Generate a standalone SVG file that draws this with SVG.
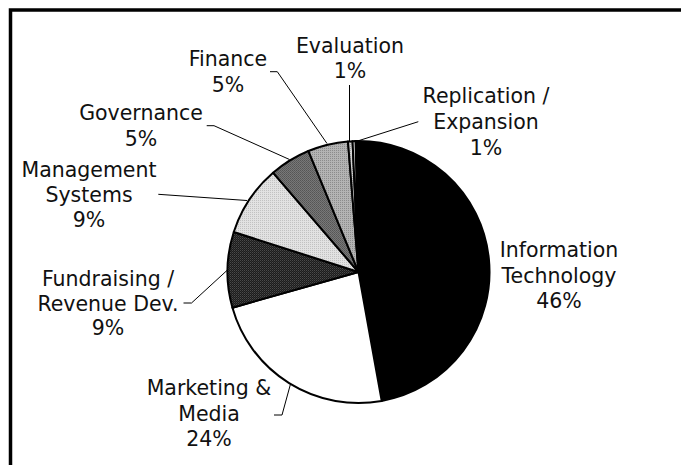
<svg xmlns="http://www.w3.org/2000/svg" width="681" height="465" viewBox="0 0 681 465">
<style>
text{font-family:"DejaVu Sans","Liberation Sans",sans-serif;font-size:20.5px;fill:#111;text-anchor:middle}
.w{stroke:#000;stroke-width:2;stroke-linejoin:round}
.ld{fill:none;stroke:#000;stroke-width:1}
</style>
<defs>
<pattern id="pFund" width="2" height="2" patternUnits="userSpaceOnUse"><rect width="2" height="2" fill="#1c1c1c"/><rect width="1" height="1" fill="#4a4a4a"/><rect x="1" y="1" width="1" height="1" fill="#333"/></pattern>
<pattern id="pMgmt" width="2" height="2" patternUnits="userSpaceOnUse"><rect width="2" height="2" fill="#e2e2e2"/><rect width="1" height="1" fill="#c2c2c2"/></pattern>
<pattern id="pGov" width="2" height="2" patternUnits="userSpaceOnUse"><rect width="2" height="2" fill="#787878"/><rect width="1" height="1" fill="#555"/><rect x="1" y="1" width="1" height="1" fill="#5e5e5e"/></pattern>
<pattern id="pFin" width="2" height="2" patternUnits="userSpaceOnUse"><rect width="2" height="2" fill="#b4b4b4"/><rect width="1" height="1" fill="#8c8c8c"/></pattern>
<pattern id="pEval" width="2" height="2" patternUnits="userSpaceOnUse"><rect width="2" height="2" fill="#d4d4d4"/><rect width="1" height="1" fill="#a8a8a8"/></pattern>
</defs>
<rect width="681" height="465" fill="#fff"/>
<rect x="10.5" y="10" width="720" height="520" fill="none" stroke="#000" stroke-width="3.5"/>
<g id="connectors">
<path class="ld" d="M418.3,121.7 L356,141.5"/>
<path class="ld" d="M349.5,85 L349.5,141.5"/>
<path class="ld" d="M270,71.7 L277.3,71.7 L327,143.5"/>
<path class="ld" d="M206.7,125.7 L214,125.7 L289.5,159.5"/>
<path class="ld" d="M158.3,194.3 L247,200.5"/>
<path class="ld" d="M183.5,303 L191.5,303 L228,269.5"/>
<path class="ld" d="M274,415 L282,415 L290.5,384"/>
</g>
<g id="it">
<path class="w" fill="#000" d="M358.5,272 L355.53,141.03 A131,131 0 0 1 381.7,400.93 Z"/>
<text x="559" y="257">Information</text><text x="559" y="282.5">Technology</text><text x="559" y="308">46%</text>
</g>
<g id="marketing">
<path class="w" fill="#fff" d="M358.5,272 L381.7,400.93 A131,131 0 0 1 232.45,307.67 Z"/>
<text x="209" y="395">Marketing &amp;</text><text x="209" y="420.5">Media</text><text x="209" y="446">24%</text>
</g>
<g id="fundraising">
<path class="w" fill="url(#pFund)" d="M358.5,272 L232.45,307.67 A131,131 0 0 1 233.77,231.95 Z"/>
<text x="108" y="286">Fundraising /</text><text x="108" y="310.5">Revenue Dev.</text><text x="108" y="335">9%</text>
</g>
<g id="management">
<path class="w" fill="url(#pMgmt)" d="M358.5,272 L233.77,231.95 A131,131 0 0 1 273.07,172.69 Z"/>
<text x="89" y="177">Management</text><text x="89" y="202">Systems</text><text x="89" y="227">9%</text>
</g>
<g id="governance">
<path class="w" fill="url(#pGov)" d="M358.5,272 L273.07,172.69 A131,131 0 0 1 308.37,150.97 Z"/>
<text x="141" y="120">Governance</text><text x="141" y="145.5">5%</text>
</g>
<g id="finance">
<path class="w" fill="url(#pFin)" d="M358.5,272 L308.37,150.97 A131,131 0 0 1 347.99,141.42 Z"/>
<text x="228" y="66">Finance</text><text x="228" y="91.5">5%</text>
</g>
<g id="evaluation">
<path class="w" fill="url(#pEval)" d="M358.5,272 L347.99,141.42 A131,131 0 0 1 352.56,141.13 Z"/>
<text x="350" y="52.5">Evaluation</text><text x="350" y="78">1%</text>
</g>
<g id="replication">
<path class="w" fill="#eee" d="M358.5,272 L352.56,141.13 A131,131 0 0 1 355.53,141.03 Z"/>
<text x="486" y="103.3">Replication /</text><text x="486" y="129">Expansion</text><text x="486" y="154.5">1%</text>
</g>
</svg>
